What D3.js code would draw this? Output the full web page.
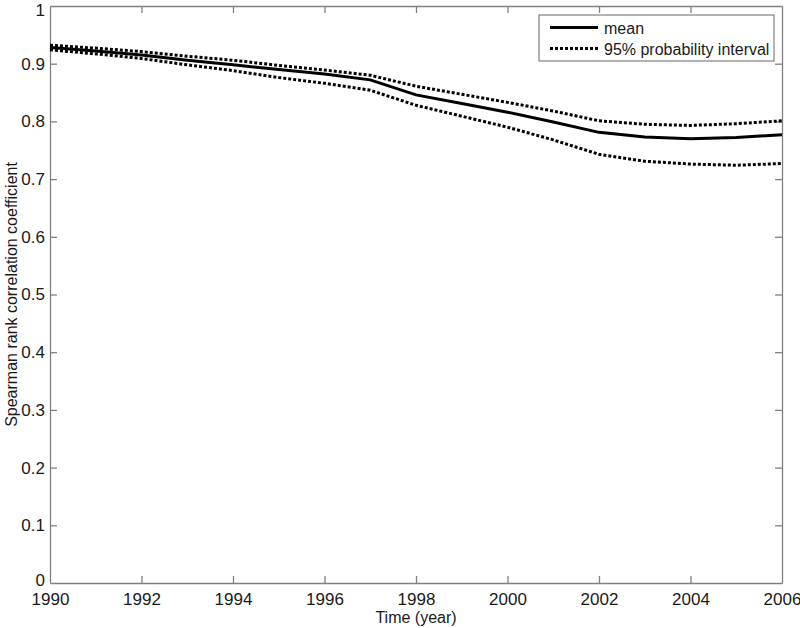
<!DOCTYPE html>
<html lang="en">
<head>
    <meta charset="UTF-8">
    <style>
        body { margin: 0; background: #fff; }
        text { font-family: Arial, "Liberation Sans", sans-serif; fill: #1a1a1a; }
        .axis path, .axis line { stroke: #808080; stroke-width: 1.3px; }
    </style>
    <script src="https://d3js.org/d3.v7.min.js"></script>
    <title>Spearman rank correlation</title>
</head>
<body>
<script>
// yearly values
const years = [1990, 1991, 1992, 1993, 1994, 1995, 1996, 1997, 1998, 1999, 2000, 2001, 2002, 2003, 2004, 2005, 2006];
const meanVals = [0.928, 0.922, 0.915, 0.906, 0.898, 0.890, 0.882, 0.872, 0.846, 0.831, 0.816, 0.799, 0.781, 0.773, 0.770, 0.772, 0.777];
const upperVals = [0.932, 0.927, 0.921, 0.913, 0.906, 0.897, 0.889, 0.880, 0.861, 0.847, 0.833, 0.818, 0.801, 0.795, 0.793, 0.796, 0.801];
const lowerVals = [0.924, 0.917, 0.909, 0.898, 0.888, 0.876, 0.866, 0.854, 0.828, 0.809, 0.790, 0.768, 0.743, 0.731, 0.726, 0.724, 0.727];
const xTicks = [1990, 1992, 1994, 1996, 1998, 2000, 2002, 2004, 2006];
const yTicks = [0, 0.1, 0.2, 0.3, 0.4, 0.5, 0.6, 0.7, 0.8, 0.9, 1];
const legendLabels = ["mean", "95% probability interval"];

const W = 800, H = 628;
const margin = { top: 6, right: 18, bottom: 45, left: 50 };
const width = W - margin.left - margin.right;
const height = H - margin.top - margin.bottom;

const svg = d3.select("body").append("svg")
    .attr("width", W)
    .attr("height", H);

const g = svg.append("g")
    .attr("transform", "translate(" + margin.left + "," + margin.top + ")");

const x = d3.scaleLinear().domain([1990, 2006]).range([0, width]);
const y = d3.scaleLinear().domain([0, 1]).range([height, 0]);

// axes: ticks point inward, box on all four sides
const tickLen = 7;
g.append("g").attr("class", "axis")
    .attr("transform", "translate(0," + height + ")")
    .call(d3.axisBottom(x).tickValues(xTicks).tickFormat(d3.format("d")).tickSizeInner(-tickLen).tickSizeOuter(0).tickPadding(10));
g.append("g").attr("class", "axis")
    .call(d3.axisTop(x).tickValues(xTicks).tickFormat("").tickSizeInner(-tickLen).tickSizeOuter(0));
const yAxis = g.append("g").attr("class", "axis")
    .call(d3.axisLeft(y).tickValues(yTicks).tickFormat(d => d === 0 || d === 1 ? d3.format("d")(d) : d3.format(".1f")(d)).tickSizeInner(-tickLen).tickSizeOuter(0).tickPadding(5));
g.append("g").attr("class", "axis")
    .attr("transform", "translate(" + width + ",0)")
    .call(d3.axisRight(y).tickValues(yTicks).tickFormat("").tickSizeInner(-tickLen).tickSizeOuter(0));

g.selectAll(".axis text").style("font-size", "17px").attr("fill", "#1a1a1a");
// end labels nudged so they are not clipped / do not collide with 1990
yAxis.selectAll(".tick text").filter(d => d === 1).attr("dy", "0.55em");
yAxis.selectAll(".tick text").filter(d => d === 0).attr("dy", "0.12em");
g.selectAll(".axis .tick line").filter(d => d === 1990 || d === 2006 || d === 0 || d === 1).remove();

// lines
const line = vals => d3.line()
    .x((d, i) => x(years[i]))
    .y(d => y(d))(vals);

g.append("path").attr("d", line(upperVals))
    .attr("fill", "none").attr("stroke", "#000").attr("stroke-width", 3).attr("stroke-dasharray", "3,2");
g.append("path").attr("d", line(lowerVals))
    .attr("fill", "none").attr("stroke", "#000").attr("stroke-width", 3).attr("stroke-dasharray", "3,2");
g.append("path").attr("d", line(meanVals))
    .attr("fill", "none").attr("stroke", "#000").attr("stroke-width", 3);

// axis titles
svg.append("text")
    .attr("x", margin.left + width / 2)
    .attr("y", 623)
    .attr("text-anchor", "middle")
    .style("font-size", "16px")
    .text("Time (year)");

svg.append("text")
    .attr("transform", "translate(13," + (margin.top + height / 2) + ") rotate(-90)")
    .attr("text-anchor", "middle")
    .attr("dominant-baseline", "middle")
    .style("font-size", "16px")
    .text("Spearman rank correlation coefficient");

// legend
const legend = svg.append("g").attr("transform", "translate(539,15)");
legend.append("rect")
    .attr("width", 235).attr("height", 46)
    .attr("fill", "#fff").attr("stroke", "#808080").attr("stroke-width", 1.2);
legend.selectAll("line")
    .data(legendLabels)
    .enter().append("line")
    .attr("x1", 11).attr("x2", 59)
    .attr("y1", (d, i) => 12.5 + i * 21).attr("y2", (d, i) => 12.5 + i * 21)
    .attr("stroke", "#000").attr("stroke-width", 3)
    .attr("stroke-dasharray", (d, i) => i === 0 ? null : "3,2");
legend.selectAll("text")
    .data(legendLabels)
    .enter().append("text")
    .attr("x", 65)
    .attr("y", (d, i) => 18.5 + i * 21)
    .style("font-size", "16px")
    .text(d => d);
</script>
</body>
</html>
